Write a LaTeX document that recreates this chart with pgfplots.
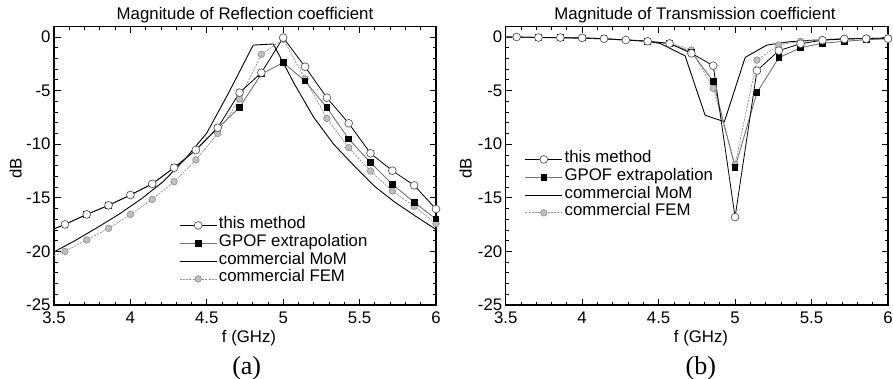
\documentclass[border=0pt]{standalone}
\usepackage{pgfplots}
\pgfplotsset{compat=1.18}
\usepackage{fontspec}
\setmainfont{Liberation Sans}
\newfontfamily\timesfont{Liberation Serif}
\newcommand{\fs}{\fontsize{16.8}{19}\selectfont}

\pgfplotsset{
 myaxis/.style={
  scale only axis, width=382pt, height=278.7pt,
  xmin=3.5, xmax=6, ymin=-25, ymax=1,
  xtick={3.5,4,4.5,5,5.5,6}, ytick={-25,-20,-15,-10,-5,0},
  minor x tick num=4, minor y tick num=4,
  xtick pos=both, ytick pos=both, tick align=inside,
  major tick length=6.5pt, minor tick length=3.5pt,
  every tick/.style={black, line width=0.8pt},
  axis line style={line width=1.2pt},
  /pgf/number format/assume math mode=true,
  tick label style={font=\fs, inner sep=0pt},
  xticklabel style={yshift=-6.5pt},
  yticklabel style={xshift=-3.3pt},
  legend style={draw=none, fill=none, inner sep=0pt, row sep=0pt, font=\fs,
    nodes={inner xsep=2pt, inner ysep=0pt, text height=12pt, text depth=5.8pt}},
  legend cell align=left,
  legend image code/.code={\draw[##1,mark repeat=2,mark phase=2] plot coordinates {(0pt,0pt) (18.35pt,0pt) (36.7pt,0pt)};},
 },
 sthis/.style={black, line width=0.8pt, mark=*, mark size=3.9pt,
   mark options={solid, fill=white, draw=black!65, line width=0.7pt}, mark repeat=1, mark phase=2},
 sgpof/.style={black!55, line width=0.9pt, mark=square*, mark size=2.8pt,
   mark options={solid, fill=black, draw=black}, mark repeat=1, mark phase=2},
 smom/.style={black, line width=0.9pt},
 sfem/.style={black!45, line width=0.7pt, dash pattern=on 2pt off 1.2pt, mark=*, mark size=3.3pt,
   mark options={solid, fill=black!25, draw=black!45, line width=0.6pt}, mark repeat=1, mark phase=2},
}

\begin{document}
\begin{tikzpicture}
\useasboundingbox (0,0) rectangle (893pt,-379pt);

% ---------------- (a) Reflection ----------------
\begin{axis}[myaxis, at={(54pt,-305pt)}, anchor=south west,
  legend style={at={(0.3277,0.318)}, anchor=north west}]
\addlegendimage{sthis}\addlegendentry{this method}
\addlegendimage{sgpof}\addlegendentry{GPOF extrapolation}
\addlegendimage{smom}\addlegendentry{commercial MoM}
\addlegendimage{sfem}\addlegendentry{commercial FEM}

\addplot[smom, forget plot] coordinates {
(3.5,-20.05) (3.643,-18.95) (3.786,-17.75) (3.929,-16.5) (4.071,-15.1)
(4.214,-13.5) (4.357,-11.4) (4.5,-8.95) (4.643,-5.2) (4.804,-0.75)
(4.935,-0.65) (5.0,-2.4) (5.07,-4.3) (5.2,-7.5) (5.33,-10.0) (5.47,-12.1)
(5.6,-13.95) (5.73,-15.4) (5.87,-16.75) (6.0,-17.95)};

\addplot[sfem, forget plot] coordinates {
(3.5,-20.4) (3.5714,-20.0) (3.7143,-18.93) (3.8571,-17.85) (4.0,-16.55)
(4.1429,-15.14) (4.2857,-13.5) (4.4286,-11.47) (4.5714,-8.99) (4.7143,-5.78)
(4.8571,-1.62) (5.0,-0.2) (5.1429,-3.9) (5.2857,-7.59) (5.4286,-10.32)
(5.5714,-12.5) (5.7143,-14.37) (5.8571,-15.8) (6.0,-17.4)};

\addplot[sgpof, forget plot] coordinates {
(3.5,-17.9) (3.5714,-17.48) (3.7143,-16.55) (3.8571,-15.7) (4.0,-14.74)
(4.1429,-13.7) (4.2857,-12.19) (4.4286,-10.54) (4.5714,-8.5) (4.7143,-6.56)
(4.8571,-3.45) (5.0,-2.39) (5.1429,-4.1) (5.2857,-6.59) (5.4286,-9.51)
(5.5714,-11.72) (5.7143,-13.74) (5.8571,-15.42) (6.0,-16.98)};

\addplot[sthis, forget plot] coordinates {
(3.5,-17.9) (3.5714,-17.48) (3.7143,-16.55) (3.8571,-15.7) (4.0,-14.74)
(4.1429,-13.7) (4.2857,-12.19) (4.4286,-10.54) (4.5714,-8.46) (4.7143,-5.19)
(4.8571,-3.33) (5.0,-0.06) (5.1429,-2.77) (5.2857,-5.66) (5.4286,-8.05)
(5.5714,-10.85) (5.7143,-12.47) (5.8571,-13.84) (6.0,-16.05)};
\end{axis}

% ---------------- (b) Transmission ----------------
\begin{axis}[myaxis, at={(505.7pt,-305pt)}, anchor=south west, width=382.3pt,
  legend style={at={(0.05,0.555)}, anchor=north west}]
\addlegendimage{sthis}\addlegendentry{this method}
\addlegendimage{sgpof}\addlegendentry{GPOF extrapolation}
\addlegendimage{smom}\addlegendentry{commercial MoM}
\addlegendimage{sfem}\addlegendentry{commercial FEM}

\addplot[smom, forget plot] coordinates {
(3.5,0.0) (3.8,-0.05) (4.1,-0.15) (4.4,-0.35) (4.51,-0.6) (4.673,-1.75)
(4.804,-7.3) (4.93,-7.9) (5.066,-1.9) (5.208,-0.75) (5.35,-0.45)
(5.5,-0.3) (5.75,-0.15) (6.0,-0.1)};

\addplot[sfem, forget plot] coordinates {
(3.5,0.0) (3.5714,0.0) (3.7143,-0.05) (3.8571,-0.05) (4.0,-0.08)
(4.1429,-0.16) (4.2857,-0.28) (4.4286,-0.4) (4.5714,-0.55) (4.7143,-1.21)
(4.8571,-4.79) (5.0,-11.9) (5.1429,-2.15) (5.2857,-0.75) (5.4286,-0.4)
(5.5714,-0.25) (5.7143,-0.15) (5.8571,-0.1) (6.0,-0.1)};

\addplot[sgpof, forget plot] coordinates {
(3.5,0.0) (3.5714,0.0) (3.7143,-0.05) (3.8571,-0.05) (4.0,-0.08)
(4.1429,-0.16) (4.2857,-0.28) (4.4286,-0.4) (4.5714,-0.6) (4.7143,-1.4)
(4.8571,-4.15) (5.0,-12.16) (5.1429,-5.19) (5.2857,-1.93) (5.4286,-1.0)
(5.5714,-0.58) (5.7143,-0.4) (5.8571,-0.25) (6.0,-0.15)};

\addplot[sthis, forget plot] coordinates {
(3.5,0.0) (3.5714,0.0) (3.7143,-0.05) (3.8571,-0.05) (4.0,-0.08)
(4.1429,-0.16) (4.2857,-0.28) (4.4286,-0.4) (4.5714,-0.6) (4.7143,-1.52)
(4.8571,-2.67) (5.0,-16.8) (5.1429,-3.14) (5.2857,-1.27) (5.4286,-0.62)
(5.5714,-0.3) (5.7143,-0.18) (5.8571,-0.16) (6.0,-0.15)};
\end{axis}

% ---------------- labels ----------------
\node[anchor=base, font=\fs] at (245pt,-20pt) {Magnitude of Reflection coefficient};
\node[anchor=base, font=\fs] at (695pt,-20pt) {Magnitude of Transmission coefficient};
\node[anchor=base, font=\fs] at (249pt,-342.5pt) {f (GHz)};
\node[anchor=base, font=\fs] at (701pt,-342.5pt) {f (GHz)};
\node[anchor=base, rotate=90, font=\fs] at (21.7pt,-168.3pt) {dB};
\node[anchor=base, rotate=90, font=\fs] at (471.7pt,-168.3pt) {dB};
\node[anchor=base, font=\timesfont\fontsize{26}{30}\selectfont] at (246.7pt,-374.3pt) {(a)};
\node[anchor=base, font=\timesfont\fontsize{26}{30}\selectfont] at (700.8pt,-374.3pt) {(b)};
\end{tikzpicture}
\end{document}
